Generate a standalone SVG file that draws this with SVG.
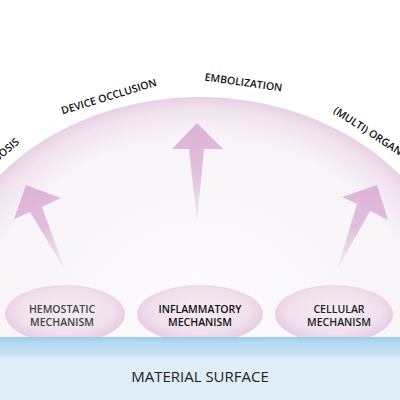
<svg xmlns="http://www.w3.org/2000/svg" width="400" height="400" viewBox="0 0 400 400">
<defs>
<radialGradient id="dome" cx="0.5" cy="0.5" r="0.5">
<stop offset="0" stop-color="#fcfbfc"/>
<stop offset="0.82" stop-color="#f8f4f8"/>
<stop offset="0.94" stop-color="#f1e4ef"/>
<stop offset="1" stop-color="#e8d0e4"/>
</radialGradient>
<radialGradient id="node" cx="0.5" cy="0.45" r="0.55">
<stop offset="0" stop-color="#f6edf4"/>
<stop offset="0.7" stop-color="#f0e0ed"/>
<stop offset="1" stop-color="#e6cae1"/>
</radialGradient>
<linearGradient id="band" x1="0" y1="0" x2="0" y2="1">
<stop offset="0" stop-color="#9ccbea"/>
<stop offset="0.35" stop-color="#b7daf0"/>
<stop offset="1" stop-color="#c6e2f3"/>
</linearGradient>
<linearGradient id="a1" gradientUnits="userSpaceOnUse" x1="26" y1="185" x2="65" y2="270">
<stop offset="0" stop-color="#dcb2d6"/>
<stop offset="0.5" stop-color="#e2c0dd"/>
<stop offset="1" stop-color="#f5ecf4"/>
</linearGradient>
<linearGradient id="a2" gradientUnits="userSpaceOnUse" x1="197" y1="123" x2="197" y2="222">
<stop offset="0" stop-color="#dcb2d6"/>
<stop offset="0.5" stop-color="#e2c0dd"/>
<stop offset="1" stop-color="#f5ecf4"/>
</linearGradient>
<linearGradient id="a3" gradientUnits="userSpaceOnUse" x1="377" y1="185" x2="337" y2="270">
<stop offset="0" stop-color="#dcb2d6"/>
<stop offset="0.5" stop-color="#e2c0dd"/>
<stop offset="1" stop-color="#f5ecf4"/>
</linearGradient>
</defs>
<style>
.lbl{font-family:"Open Sans","Liberation Sans",sans-serif;font-weight:600;font-size:10.5px;fill:#111}
.nt{font-family:"Open Sans","Liberation Sans",sans-serif;font-weight:600;font-size:10.5px;text-anchor:middle}
.node{fill:url(#node)}
</style>
<rect width="400" height="400" fill="#ffffff"/>
<ellipse cx="200" cy="317" rx="262" ry="220" fill="url(#dome)"/>
<text class="lbl" text-anchor="end" transform="translate(20,143) rotate(-40)">THROMBOSIS</text>
<text class="lbl" text-anchor="middle" transform="translate(110,100) rotate(-17)">DEVICE OCCLUSION</text>
<text class="lbl" text-anchor="middle" transform="translate(243,86) rotate(8)">EMBOLIZATION</text>
<text class="lbl" text-anchor="middle" transform="translate(366,134) rotate(33)">(MULTI) ORGAN</text>
<g id="connectors">
<polygon fill="url(#a1)" points="26,185 61,198 42,207 65,270 30,212 14,219"/>
<polygon fill="url(#a2)" points="197,123 223,149 204,149 197,222 189,149 172,149"/>
<polygon fill="url(#a3)" points="377,185 388,220 370,211 337,270 357,204 342,197"/>
</g>
<g id="hemostatic">
<ellipse class="node" cx="65" cy="314" rx="60" ry="29"/>
<text class="nt" fill="#444" x="62" y="313">HEMOSTATIC</text>
<text class="nt" fill="#444" x="62" y="326">MECHANISM</text>
</g>
<g id="inflammatory">
<ellipse class="node" cx="200" cy="314" rx="63" ry="29"/>
<text class="nt" fill="#111" font-weight="700" x="200" y="313">INFLAMMATORY</text>
<text class="nt" fill="#111" font-weight="700" x="200" y="326">MECHANISM</text>
</g>
<g id="cellular">
<ellipse class="node" cx="334" cy="314" rx="59" ry="29"/>
<text class="nt" fill="#222" x="339" y="313">CELLULAR</text>
<text class="nt" fill="#222" x="339" y="326">MECHANISM</text>
</g>
<rect x="0" y="355" width="400" height="45" fill="#deedf8"/>
<rect x="0" y="337" width="400" height="18" fill="url(#band)"/>
<rect x="0" y="355" width="400" height="2" fill="#d2e6f4"/>
<text x="200" y="382" text-anchor="middle" font-family="'Open Sans','Liberation Sans',sans-serif" font-size="15" fill="#222">MATERIAL SURFACE</text>
</svg>
